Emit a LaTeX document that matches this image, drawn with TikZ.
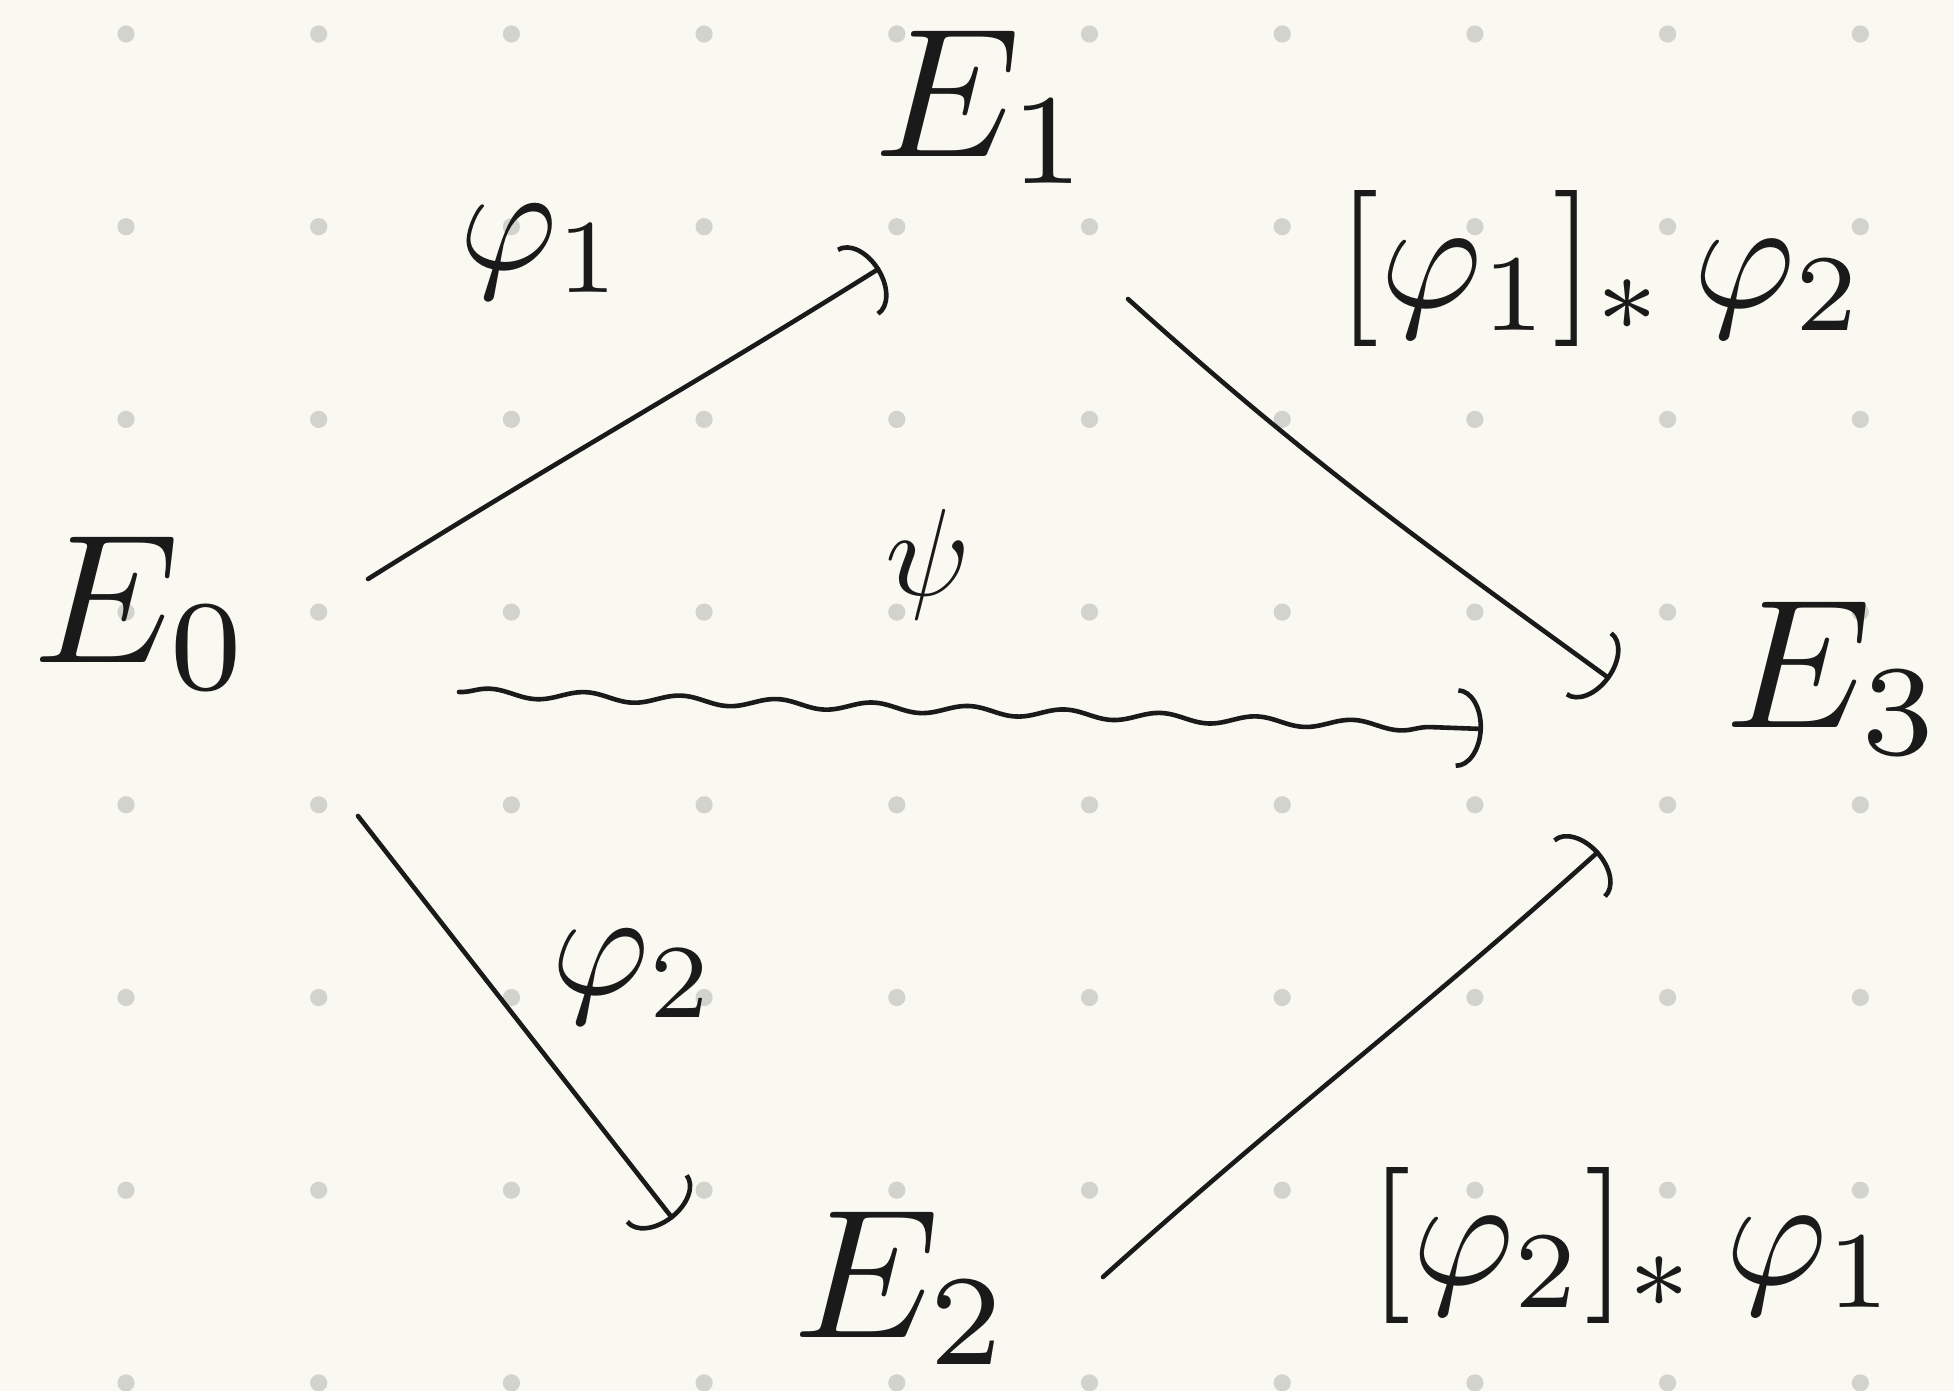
\documentclass[tikz,border=0pt]{standalone}
\usetikzlibrary{arrows.meta,decorations.pathmorphing,calc}
\definecolor{paper}{HTML}{F9F9F2}
\definecolor{dotc}{HTML}{D3D3CD}
\definecolor{ink}{HTML}{1A1A1A}
\tikzset{
  enode/.style={inner sep=0pt, text=ink, scale=9.2},
  lab/.style={inner sep=0pt, text=ink, scale=7.5},
  psilab/.style={inner sep=0pt, text=ink, scale=6.2},
  biglab/.style={inner sep=0pt, text=ink, scale=7.8},
  arr/.style={draw=ink, line width=2.3pt, line cap=round, line join=round,
    -{Arc Barb[length=13pt,width=40pt,line width=2.3pt]}},
  squig/.style={arr, decorate, decoration={snake, amplitude=2.2pt, segment length=48pt, post length=12pt}}
}
\begin{document}
\begin{tikzpicture}[x=0.5pt,y=-0.5pt]
\fill[paper] (0,0) rectangle (1954,1391);
\useasboundingbox (0,0) rectangle (1954,1391);
\foreach \i in {0,...,9}{
  \foreach \j in {0,...,7}{
    \fill[dotc] ({126+192.7*\i},{34+192.7*\j}) circle[radius=4.3pt];
  }
}
% objects
\node[enode] (E0) at (143,613) {$E_0$};
\node[enode] (E1) at (984,107) {$E_1$};
\node[enode] (E2) at (903,1288) {$E_2$};
\node[enode] (E3) at (1835,678) {$E_3$};
% labels
\node[lab] (l1) at (542,252) {$\varphi_1$};
\node[lab] (l2) at (634,977) {$\varphi_2$};
\node[psilab] (lpsi) at (928,564) {$\psi$};
\node[biglab] (l13) at (1601,268) {$[\varphi_1]_*\,\varphi_2$};
\node[biglab] (l23) at (1633,1245) {$[\varphi_2]_*\,\varphi_1$};
% arrows
\draw[arr] ($(E0)+(225,-34)$) to[out=32,in=212] ($(E1)+(-104,161)$);
\draw[arr] ($(E0)+(215,203)$) -- ($(E2)+(-230,-69)$);
\draw[squig] ($(E0)+(316,79)$) -- ($(E3)+(-352,51)$);
\draw[arr] ($(E1)+(144,192)$) to[out=-42,in=144] ($(E3)+(-225,1)$);
\draw[arr] ($(E2)+(200,-11)$) to[out=42,in=222] ($(E3)+(-236,173)$);
\end{tikzpicture}
\end{document}
